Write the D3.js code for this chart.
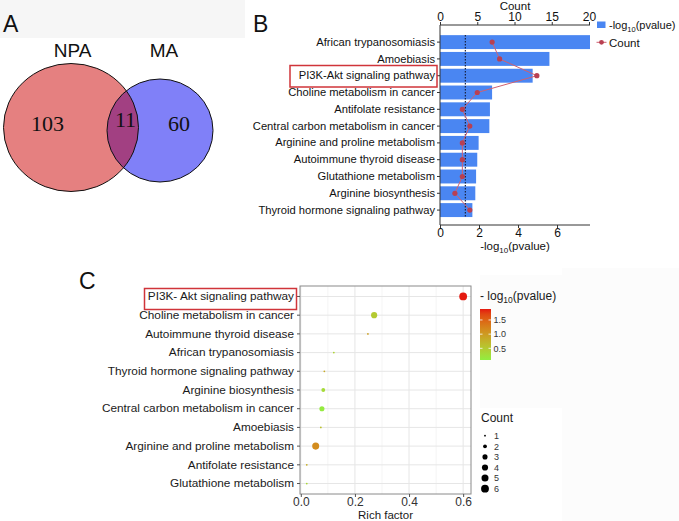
<!DOCTYPE html>
<html><head><meta charset="utf-8">
<script src="https://cdn.jsdelivr.net/npm/d3@7"></script>
<style>
html,body{margin:0;padding:0;background:#fff;}
svg{display:block;font-family:"Liberation Sans",Arial,sans-serif;}
</style></head>
<body>
<svg id="chart" width="679" height="521"></svg>
<script>
// ---------- Panel A data ----------
const vennSets = ["NPA", "MA"];
const vennCounts = [103, 11, 60]; // NPA only, shared, MA only

// ---------- Panel B data ----------
const pathwaysB = ["African trypanosomiasis","Amoebiasis","PI3K-Akt signaling pathway","Choline metabolism in cancer","Antifolate resistance","Central carbon metabolism in cancer","Arginine and proline metabolism","Autoimmune thyroid disease","Glutathione metabolism","Arginine biosynthesis","Thyroid hormone signaling pathway"];
const logPB = [7.69, 5.61, 4.75, 2.67, 2.56, 2.53, 1.98, 1.91, 1.85, 1.81, 1.66];
const countB = [7, 8, 13, 5, 3, 4, 3, 3, 3, 2, 4];
const countTicksB = [0, 5, 10, 15, 20];
const logTicksB = [0, 2, 4, 6];
const thresholdB = 1.3;

// ---------- Panel C data ----------
const pathwaysC = ["PI3K- Akt signaling pathway","Choline metabolism in cancer","Autoimmune thyroid disease","African trypanosomiasis","Thyroid hormone signaling pathway","Arginine biosynthesis","Central carbon metabolism in cancer","Amoebiasis","Arginine and proline metabolism","Antifolate resistance","Glutathione metabolism"];
const richC = [0.600, 0.271, 0.248, 0.122, 0.087, 0.083, 0.078, 0.074, 0.055, 0.022, 0.022];
const logPC = [1.887, 0.5, 0.95, 0.4, 0.85, 0.3, 0.12, 0.6, 1.15, 0.8, 0.35];
const countC = [6, 4, 1, 1, 1, 2, 3, 1, 5, 1, 1];
const richTicksC = [0, 0.2, 0.4, 0.6];
const colorTicksC = [0.5, 1.0, 1.5];
const countLegendC = [1, 2, 3, 4, 5, 6];

const svg = d3.select("#chart");
const FONT = "'Liberation Sans',Arial,sans-serif";
const defs = svg.append("defs");

// faint background blocks
svg.append("rect").attr("x",0).attr("y",0).attr("width",245).attr("height",38).attr("fill","#f6f6f6");
svg.append("rect").attr("x",480).attr("y",275).attr("width",82).attr("height",133).attr("fill","#fcfcfc");
svg.append("rect").attr("x",562).attr("y",268).attr("width",117).attr("height",253).attr("fill","#fcfcfc");

// panel letters
[["A",3,32],["B",253,32],["C",79,289]].forEach(([t,x,y])=>{
  svg.append("text").attr("x",x).attr("y",y).attr("font-size",23).attr("fill","#111").text(t);
});

// ================= Panel A (Venn) =================
{
  const g = svg.append("g");
  const e1 = {cx:71, cy:127.5, rx:67.5, ry:64};
  const e2 = {cx:160, cy:130.5, rx:53, ry:51.5};
  defs.append("clipPath").attr("id","clipNPA").append("ellipse")
    .attr("cx",e1.cx).attr("cy",e1.cy).attr("rx",e1.rx).attr("ry",e1.ry);
  g.append("ellipse").attr("cx",e1.cx).attr("cy",e1.cy).attr("rx",e1.rx).attr("ry",e1.ry).attr("fill","#E58080");
  g.append("ellipse").attr("cx",e2.cx).attr("cy",e2.cy).attr("rx",e2.rx).attr("ry",e2.ry).attr("fill","#8080F8");
  g.append("ellipse").attr("cx",e2.cx).attr("cy",e2.cy).attr("rx",e2.rx).attr("ry",e2.ry).attr("fill","#A24082").attr("clip-path","url(#clipNPA)");
  [e1,e2].forEach(e=>g.append("ellipse").attr("cx",e.cx).attr("cy",e.cy).attr("rx",e.rx).attr("ry",e.ry)
    .attr("fill","none").attr("stroke","#111").attr("stroke-width",1));
  g.append("text").attr("x",72.5).attr("y",56.5).attr("text-anchor","middle").attr("font-size",19).attr("fill","#111").text(vennSets[0]);
  g.append("text").attr("x",164).attr("y",56.5).attr("text-anchor","middle").attr("font-size",19).attr("fill","#111").text(vennSets[1]);
  const numPos = [[47.5,131],[125.5,127],[179,131]];
  vennCounts.forEach((v,i)=>{
    g.append("text").attr("x",numPos[i][0]).attr("y",numPos[i][1]).attr("text-anchor","middle")
      .attr("font-family","'Liberation Serif','Times New Roman',serif").attr("font-size",22).attr("fill","#111").text(v);
  });
}

// ================= Panel B (bar + line) =================
{
  const g = svg.append("g").attr("font-family",FONT);
  const x0 = 440, x1 = 590, yTop = 25, yBot = 225;
  const xLog = d3.scaleLinear().domain([0, 7.69]).range([x0, x1]);
  const xCnt = d3.scaleLinear().domain([0, 20]).range([x0, 589]);
  const y = d3.scaleBand().domain(pathwaysB).range([33.8, 218.4]).paddingInner(0.17).paddingOuter(0.08);

  g.selectAll("rect.bar").data(pathwaysB).join("rect").attr("class","bar")
    .attr("x", x0).attr("y", d=>y(d)).attr("height", y.bandwidth())
    .attr("width", (d,i)=>xLog(logPB[i]) - x0).attr("fill","#4A86F2");

  g.append("line").attr("x1",xLog(thresholdB)).attr("x2",xLog(thresholdB))
    .attr("y1",35).attr("y2",218).attr("stroke","#1a2340").attr("stroke-width",1.2).attr("stroke-dasharray","1.5,1.5");

  const line = d3.line().x((d,i)=>xCnt(countB[i])).y(d=>y(d)+y.bandwidth()/2);
  g.append("path").datum(pathwaysB).attr("d",line).attr("fill","none").attr("stroke","#D06070").attr("stroke-width",1);
  g.selectAll("circle.pt").data(pathwaysB).join("circle").attr("class","pt")
    .attr("cx",(d,i)=>xCnt(countB[i])).attr("cy",d=>y(d)+y.bandwidth()/2).attr("r",2.6).attr("fill","#B84052");

  const axL = g.append("g").attr("transform",`translate(${x0},0)`)
    .call(d3.axisLeft(y).tickSize(3).tickPadding(2));
  axL.select(".domain").attr("d",`M0,${yTop}V${yBot}`);
  const axT = g.append("g").attr("transform",`translate(0,${yTop})`)
    .call(d3.axisTop(xCnt).tickValues(countTicksB).tickSize(3).tickPadding(1).tickFormat(d3.format("d")));
  axT.select(".domain").attr("d",`M${x0},0H${x1}`);
  const axB = g.append("g").attr("transform",`translate(0,${yBot})`)
    .call(d3.axisBottom(xLog).tickValues(logTicksB).tickSize(3).tickPadding(0).tickFormat(d3.format("d")));
  axB.select(".domain").attr("d",`M${x0},0H${x1}`);
  [axL,axT,axB].forEach(a=>{
    a.selectAll(".domain").attr("stroke","#333");
    a.selectAll(".tick line").attr("stroke","#333");
    a.selectAll("text").attr("font-family",FONT).attr("fill","#111");
  });
  axL.selectAll("text").attr("font-size",11.2);
  axT.selectAll("text").attr("font-size",12);
  axB.selectAll("text").attr("font-size",12);

  g.append("text").attr("x",515).attr("y",9.5).attr("text-anchor","middle").attr("font-size",11.5).attr("fill","#111").text("Count");
  const tb = g.append("text").attr("x",515).attr("y",250).attr("text-anchor","middle").attr("font-size",11.5).attr("fill","#111");
  tb.append("tspan").text("-log");
  tb.append("tspan").attr("font-size",8).attr("dy",3).text("10");
  tb.append("tspan").attr("dy",-3).text("(pvalue)");

  g.append("rect").attr("x",290).attr("y",65.5).attr("width",147).attr("height",21.5)
    .attr("fill","none").attr("stroke","#D0343A").attr("stroke-width",1.5);

  // legend
  g.append("rect").attr("x",597).attr("y",21.5).attr("width",8.5).attr("height",6.5).attr("fill","#4A86F2");
  const tl = g.append("text").attr("x",609).attr("y",28.5).attr("font-size",11).attr("fill","#111");
  tl.append("tspan").text("-log");
  tl.append("tspan").attr("font-size",7.5).attr("dy",3).text("10");
  tl.append("tspan").attr("dy",-3).text("(pvalue)");
  g.append("line").attr("x1",596.5).attr("x2",606.5).attr("y1",42.3).attr("y2",42.3).attr("stroke","#D06070").attr("stroke-width",1);
  g.append("circle").attr("cx",601.5).attr("cy",42.3).attr("r",2.4).attr("fill","#B84052");
  g.append("text").attr("x",609).attr("y",46.5).attr("font-size",11.5).attr("fill","#111").text("Count");
}

// ================= Panel C (bubble) =================
{
  const g = svg.append("g").attr("font-family",FONT);
  const L = 300, R = 471, T = 286, B = 494;
  const x = d3.scaleLinear().domain([-0.003, 0.629]).range([L, R]);
  const y = d3.scaleBand().domain(pathwaysC).range([T, B]).padding(0).paddingOuter(0.06);
  const yc = d => y(d) + y.bandwidth()/2;
  const color = d3.scaleLinear().domain([0.088, 1.887]).range(["#90EE40","#E41A10"]).interpolate(d3.interpolateLab);
  const size = d3.scaleRadial().domain([1, 6]).range([0.9, 3.9]);

  g.append("rect").attr("x",L).attr("y",T).attr("width",R-L).attr("height",B-T).attr("fill","#fff");
  [0.1,0.3,0.5].forEach(v=>g.append("line").attr("x1",x(v)).attr("x2",x(v)).attr("y1",T).attr("y2",B).attr("stroke","#f1f1f1").attr("stroke-width",0.8));
  richTicksC.forEach(v=>g.append("line").attr("x1",x(v)).attr("x2",x(v)).attr("y1",T).attr("y2",B).attr("stroke","#e6e6e6").attr("stroke-width",1));
  pathwaysC.forEach(p=>g.append("line").attr("x1",L).attr("x2",R).attr("y1",yc(p)).attr("y2",yc(p)).attr("stroke","#e6e6e6").attr("stroke-width",1));

  g.selectAll("circle.dot").data(pathwaysC).join("circle").attr("class","dot")
    .attr("cx",(d,i)=>x(richC[i])).attr("cy",d=>yc(d))
    .attr("r",(d,i)=>size(countC[i])).attr("fill",(d,i)=>color(logPC[i]));

  g.append("rect").attr("x",L).attr("y",T).attr("width",R-L).attr("height",B-T).attr("fill","none").attr("stroke","#8a8a8a").attr("stroke-width",1);

  const axL = g.append("g").attr("transform",`translate(${L},0)`).call(d3.axisLeft(y).tickSize(3).tickPadding(3));
  axL.select(".domain").remove();
  axL.selectAll("text").attr("font-size",11.8).attr("fill","#1a1a1a").attr("font-family",FONT);
  axL.selectAll(".tick line").attr("stroke","#555");
  const axB = g.append("g").attr("transform",`translate(0,${B})`)
    .call(d3.axisBottom(x).tickValues(richTicksC).tickSize(3).tickPadding(0).tickFormat(d3.format(".1f")));
  axB.select(".domain").remove();
  axB.selectAll("text").attr("font-size",12).attr("fill","#333").attr("font-family",FONT);
  axB.selectAll(".tick line").attr("stroke","#555");
  g.append("text").attr("x",385.5).attr("y",519).attr("text-anchor","middle").attr("font-size",11.5).attr("fill","#1a1a1a").text("Rich factor");

  g.append("rect").attr("x",144.5).attr("y",288.5).attr("width",152).attr("height",21)
    .attr("fill","none").attr("stroke","#D0343A").attr("stroke-width",1.5);

  // color legend
  const tl = g.append("text").attr("x",480).attr("y",300).attr("font-size",12).attr("fill","#1a1a1a");
  tl.append("tspan").text("- log");
  tl.append("tspan").attr("font-size",8.5).attr("dy",3).text("10");
  tl.append("tspan").attr("dy",-3).text("(pvalue)");
  const cbTop = 309, cbBot = 360;
  const cy = d3.scaleLinear().domain([0.088, 1.887]).range([cbBot, cbTop]);
  const grad = defs.append("linearGradient").attr("id","cgrad").attr("x1",0).attr("x2",0).attr("y1",1).attr("y2",0);
  d3.range(0,1.0001,0.1).forEach(t=>{
    grad.append("stop").attr("offset",t).attr("stop-color",color(0.088 + t*(1.887-0.088)));
  });
  g.append("rect").attr("x",480).attr("y",cbTop).attr("width",11).attr("height",cbBot-cbTop).attr("fill","url(#cgrad)");
  colorTicksC.forEach(v=>{
    g.append("line").attr("x1",480).attr("x2",482.5).attr("y1",cy(v)).attr("y2",cy(v)).attr("stroke","#fff").attr("stroke-width",0.8);
    g.append("line").attr("x1",488.5).attr("x2",491).attr("y1",cy(v)).attr("y2",cy(v)).attr("stroke","#fff").attr("stroke-width",0.8);
    g.append("text").attr("x",493.5).attr("y",cy(v)+3.2).attr("font-size",9).attr("fill","#333").text(d3.format(".1f")(v));
  });

  // size legend
  g.append("text").attr("x",481).attr("y",422).attr("font-size",12).attr("fill","#1a1a1a").text("Count");
  const ly = d3.scaleLinear().domain([1,6]).range([435.7, 488.7]);
  countLegendC.forEach(c=>{
    g.append("circle").attr("cx",485).attr("cy",ly(c)).attr("r",size(c)).attr("fill","#000");
    g.append("text").attr("x",494).attr("y",ly(c)+3.2).attr("font-size",9).attr("fill","#333").text(c);
  });
}
</script>
</body></html>
